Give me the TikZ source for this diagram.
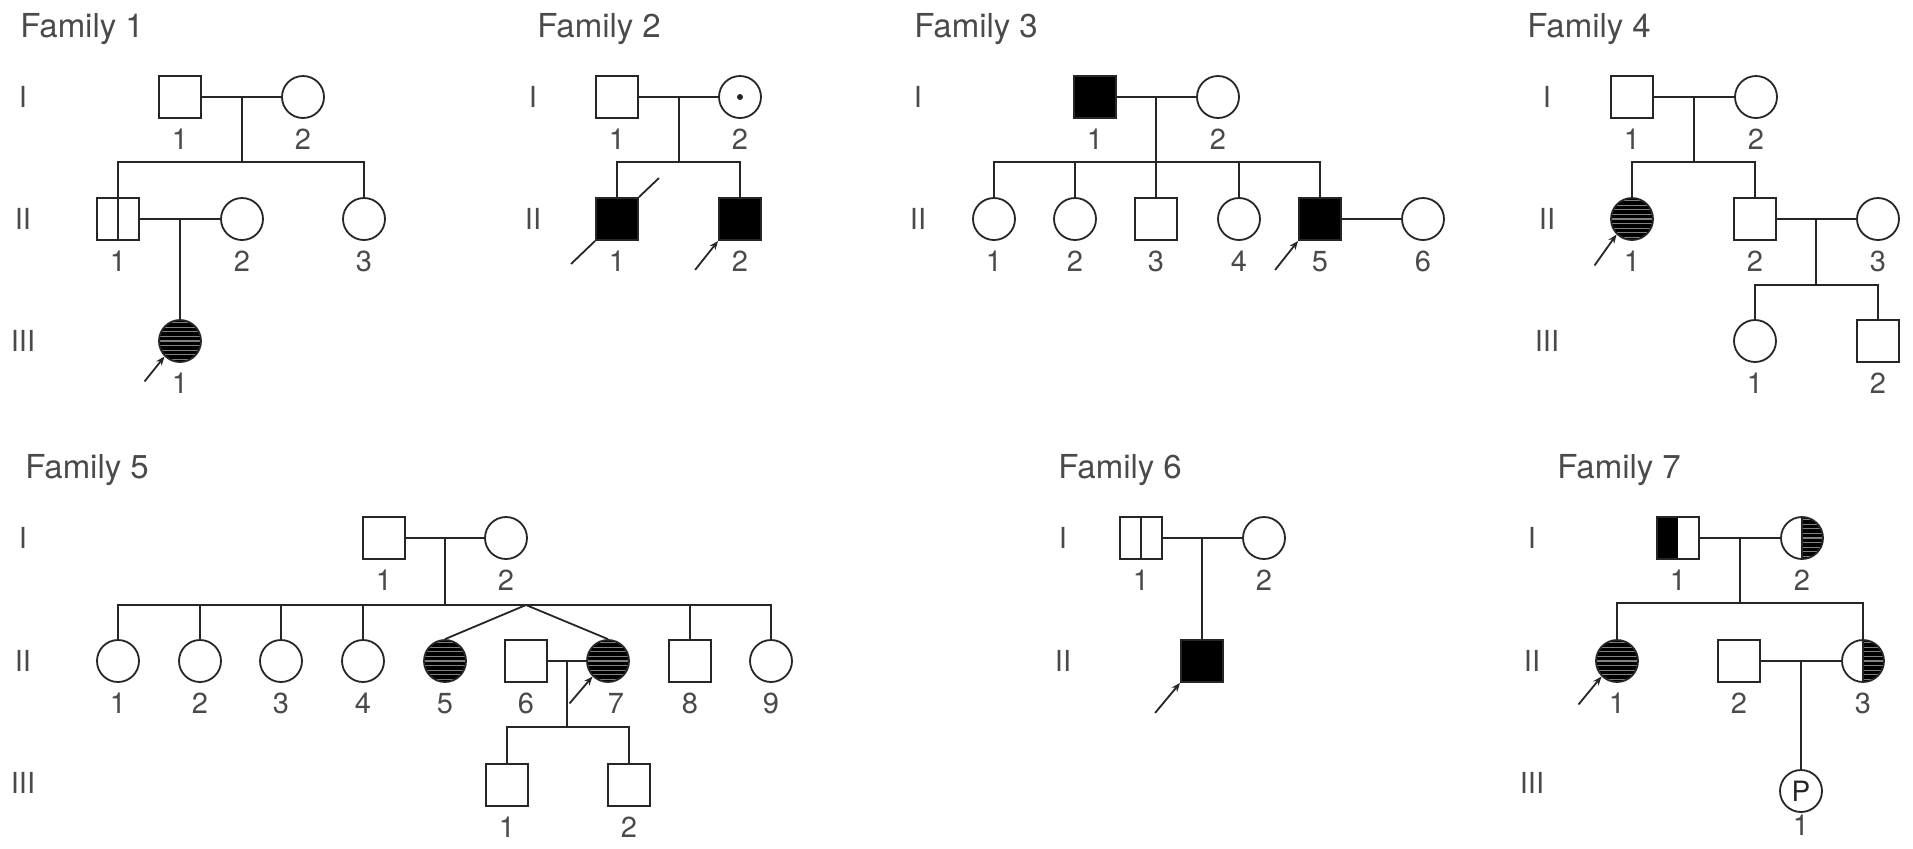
\documentclass[tikz,border=0pt]{standalone}
\usepackage{fontspec}
\setmainfont{TeX Gyre Heros}
\usepackage{tikz}
\usetikzlibrary{calc,arrows.meta}
\definecolor{ink}{HTML}{262626}
\definecolor{txt}{HTML}{4A4A4A}
\tikzset{
  ln/.style={draw=ink,line width=0.9pt},
  ml/.style={ln,rectangle,fill=white,minimum size=21pt,inner sep=0pt},
  fm/.style={ln,circle,fill=white,minimum size=21pt,inner sep=0pt},
  af/.style={fill=black},
  hs/.style={draw=black!50,line width=0.55pt},
  hb/.style={path picture={\fill[black] (path picture bounding box.south west) rectangle (path picture bounding box.north east);
    \foreach \k in {-4,...,4}{\draw[hs] ([yshift=\k*2.3pt]path picture bounding box.west) -- ([yshift=\k*2.3pt]path picture bounding box.east);}}},
  hr/.style={path picture={\fill[black] (path picture bounding box.north) rectangle (path picture bounding box.south east);
    \foreach \k in {-4,...,4}{\draw[hs] ([yshift=\k*2.3pt]path picture bounding box.center) -- ([yshift=\k*2.3pt]path picture bounding box.east);}
    \draw[ink,line width=0.9pt] (path picture bounding box.north) -- (path picture bounding box.south);}},
  hl/.style={path picture={\fill[black] (path picture bounding box.south west) rectangle (path picture bounding box.north);}},
  cr/.style={path picture={\draw[ink,line width=0.9pt] (path picture bounding box.north) -- (path picture bounding box.south);}},
  dt/.style={path picture={\fill[ink] (path picture bounding box.center) circle (1.5pt);}},
  pb/.style={ln,-{Stealth[length=4.5pt,width=3.5pt]}},
  nr/.style={font=\fontsize{14.5}{17}\selectfont,text=txt,inner sep=0pt},
  ttl/.style={font=\fontsize{16.5}{19}\selectfont,text=txt,inner sep=0pt,anchor=base west}
}
\begin{document}
\begin{tikzpicture}[x=0.5pt,y=-0.5pt,label distance=4.8pt]
\useasboundingbox (0,0) rectangle (1913,848);
\node[ttl] (t1) at (20,37) {Family 1};
\node[ttl] (t2) at (537,37) {Family 2};
\node[ttl] (t3) at (914,37) {Family 3};
\node[ttl] (t4) at (1527,37) {Family 4};
\node[ttl] (t5) at (25,478) {Family 5};
\node[ttl] (t6) at (1058,478) {Family 6};
\node[ttl] (t7) at (1557,478) {Family 7};
\foreach \x/\g in {23/1,533/2,918/3,1547/4}{
  \node[nr] (g\g a) at (\x,97) {I};
  \node[nr] (g\g b) at (\x,219) {II};}
\foreach \x/\g in {23/1,1547/4}{\node[nr] (g\g c) at (\x,341) {III};}
\foreach \x/\g in {23/5,1063/6,1532/7}{
  \node[nr] (g\g a) at (\x,538) {I};
  \node[nr] (g\g b) at (\x,661) {II};}
\foreach \x/\g in {23/5,1532/7}{\node[nr] (g\g c) at (\x,783) {III};}

\node[ml,label={[nr]below:1}] (f1a) at (180,97) {};
\node[fm,label={[nr]below:2}] (f1b) at (303,97) {};
\node[ml,cr,label={[nr]below:1}] (f1c) at (118,219) {};
\node[fm,label={[nr]below:2}] (f1d) at (242,219) {};
\node[fm,label={[nr]below:3}] (f1e) at (364,219) {};
\node[fm,hb,label={[nr]below:1}] (f1f) at (180,341) {};
\coordinate (f1s) at (242,162);
\draw[ln] (f1a) -- (f1b);
\draw[ln] (f1s |- f1a) -- (f1s);
\draw[ln] (f1c.north) |- (f1s) -| (f1e.north);
\draw[ln] (f1c) -- (f1d);
\draw[ln] (f1f.north |- f1c) -- (f1f.north);
\draw[pb] ($(f1f.south west)+(-20,25)$) -- (f1f.south west);

\node[ml,label={[nr]below:1}] (f2a) at (617,97) {};
\node[fm,dt,label={[nr]below:2}] (f2b) at (740,97) {};
\node[ml,af,label={[nr]below:1}] (f2c) at (617,219) {};
\node[ml,af,label={[nr]below:2}] (f2d) at (740,219) {};
\coordinate (f2s) at (679,162);
\draw[ln] (f2a) -- (f2b);
\draw[ln] (f2s |- f2a) -- (f2s);
\draw[ln] (f2c.north) |- (f2s) -| (f2d.north);
\draw[ln] ($(f2c.south west)+(-24,23)$) -- (f2c.south west);
\draw[ln] (f2c.north east) -- ($(f2c.north east)+(20,-19)$);
\draw[pb] ($(f2d.south west)+(-23,29)$) -- (f2d.south west);

\node[ml,af,label={[nr]below:1}] (f3a) at (1095,97) {};
\node[fm,label={[nr]below:2}] (f3b) at (1218,97) {};
\foreach \n/\x/\s/\l in {c/994/fm/1,d/1075/fm/2,e/1156/ml/3,f/1239/fm/4}{
  \node[\s,label={[nr]below:\l}] (f3\n) at (\x,219) {};}
\node[ml,af,label={[nr]below:5}] (f3g) at (1320,219) {};
\node[fm,label={[nr]below:6}] (f3h) at (1423,219) {};
\coordinate (f3s) at (1156,162);
\draw[ln] (f3a) -- (f3b);
\draw[ln] (f3s |- f3a) -- (f3s);
\draw[ln] (f3c.north) |- (f3s) -| (f3g.north);
\foreach \n in {d,e,f}{\draw[ln] (f3\n.north) -- (f3\n.north |- f3s);}
\draw[ln] (f3g) -- (f3h);
\draw[pb] ($(f3g.south west)+(-23,29)$) -- (f3g.south west);

\node[ml,label={[nr]below:1}] (f4a) at (1632,97) {};
\node[fm,label={[nr]below:2}] (f4b) at (1756,97) {};
\node[fm,hb,label={[nr]below:1}] (f4c) at (1632,219) {};
\node[ml,label={[nr]below:2}] (f4d) at (1755,219) {};
\node[fm,label={[nr]below:3}] (f4e) at (1878,219) {};
\node[fm,label={[nr]below:1}] (f4f) at (1755,341) {};
\node[ml,label={[nr]below:2}] (f4g) at (1878,341) {};
\coordinate (f4s) at (1694,162);
\coordinate (f4t) at (1816,285);
\draw[ln] (f4a) -- (f4b);
\draw[ln] (f4s |- f4a) -- (f4s);
\draw[ln] (f4c.north) |- (f4s) -| (f4d.north);
\draw[ln] (f4d) -- (f4e);
\draw[ln] (f4t |- f4d) -- (f4t);
\draw[ln] (f4f.north) |- (f4t) -| (f4g.north);
\draw[pb] ($(f4c.south west)+(-22,31)$) -- (f4c.south west);

\node[ml,label={[nr]below:1}] (f5a) at (384,538) {};
\node[fm,label={[nr]below:2}] (f5b) at (506,538) {};
\foreach \n/\x/\l in {c/118/1,d/200/2,e/281/3,f/363/4}{
  \node[fm,label={[nr]below:\l}] (f5\n) at (\x,661) {};}
\node[fm,hb,label={[nr]below:5}] (f5g) at (445,661) {};
\node[ml,label={[nr]below:6}] (f5h) at (526,661) {};
\node[fm,hb,label={[nr,xshift=4pt]below:7}] (f5i) at (608,661) {};
\node[ml,label={[nr]below:8}] (f5j) at (690,661) {};
\node[fm,label={[nr]below:9}] (f5k) at (771,661) {};
\node[ml,label={[nr]below:1}] (f5l) at (507,785) {};
\node[ml,label={[nr]below:2}] (f5m) at (629,785) {};
\coordinate (f5s) at (445,605);
\coordinate (f5w) at (526,605);
\coordinate (f5t) at (567,727);
\draw[ln] (f5a) -- (f5b);
\draw[ln] (f5s |- f5a) -- (f5s);
\draw[ln] (f5c.north) |- (f5s) -| (f5k.north);
\foreach \n in {d,e,f,j}{\draw[ln] (f5\n.north) -- (f5\n.north |- f5s);}
\draw[ln] (f5g.north) -- (f5w) -- (f5i.north);
\draw[ln] (f5h) -- (f5i);
\draw[ln] (f5t |- f5h) -- (f5t);
\draw[ln] (f5l.north) |- (f5t) -| (f5m.north);
\draw[pb] ($(f5i.south west)+(-23,27)$) -- (f5i.south west);

\node[ml,cr,label={[nr]below:1}] (f6a) at (1141,538) {};
\node[fm,label={[nr]below:2}] (f6b) at (1264,538) {};
\node[ml,af] (f6c) at (1202,661) {};
\draw[ln] (f6a) -- (f6b);
\draw[ln] (f6c.north |- f6a) -- (f6c.north);
\draw[pb] ($(f6c.south west)+(-25,30)$) -- (f6c.south west);

\node[ml,hl,label={[nr]below:1}] (f7a) at (1678,538) {};
\node[fm,hr,label={[nr]below:2}] (f7b) at (1802,538) {};
\node[fm,hb,label={[nr]below:1}] (f7c) at (1617,661) {};
\node[ml,label={[nr]below:2}] (f7d) at (1739,661) {};
\node[fm,hr,label={[nr]below:3}] (f7e) at (1863,661) {};
\node[fm,font=\fontsize{14}{16}\selectfont,text=ink] (f7f) at (1801,791) {P};
\node[nr,anchor=north] (f7g) at ($(f7f.south)+(0,2)$) {1};
\coordinate (f7s) at (1740,603);
\draw[ln] (f7a) -- (f7b);
\draw[ln] (f7s |- f7a) -- (f7s);
\draw[ln] (f7c.north) |- (f7s) -| (f7e.north);
\draw[ln] (f7d) -- (f7e);
\draw[ln] (f7f.north |- f7d) -- (f7f.north);
\draw[pb] ($(f7c.south west)+(-23,28)$) -- (f7c.south west);
\end{tikzpicture}
\end{document}
